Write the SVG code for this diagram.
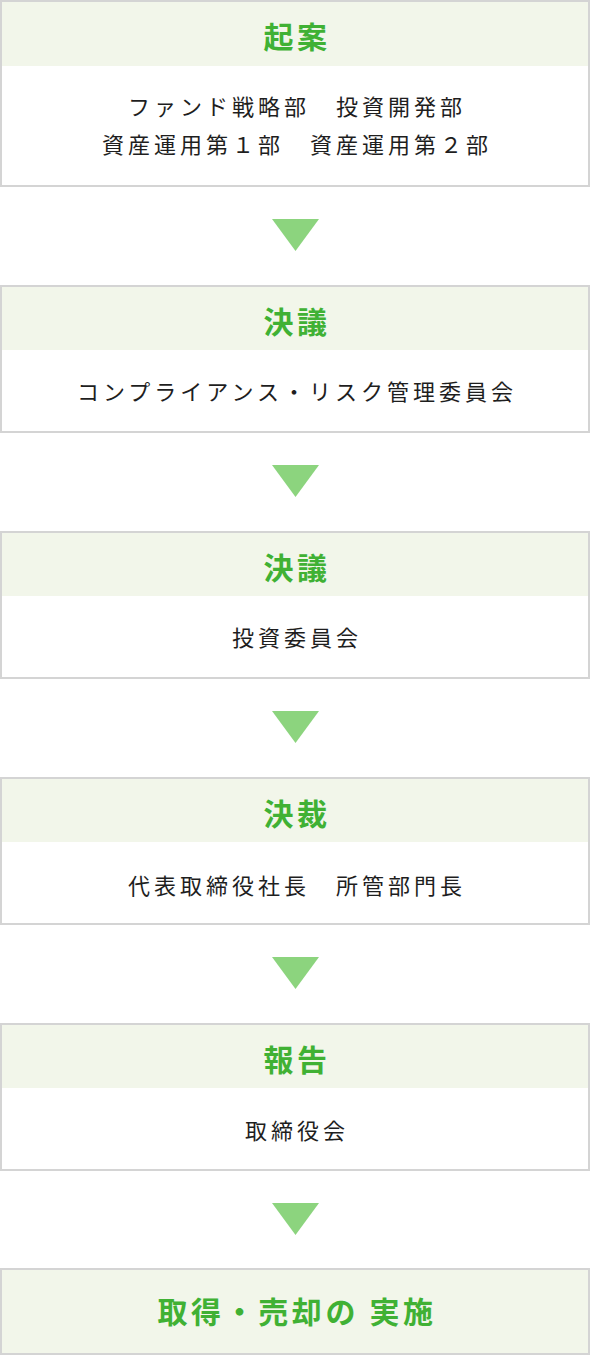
<svg xmlns="http://www.w3.org/2000/svg" width="590" height="1356" viewBox="0 0 590 1356">
<style>
.box{fill:#ffffff;stroke:#d4d4d4;stroke-width:2}
.hd{fill:#f2f6ea}
.ttl{font-family:"Noto Sans CJK JP","Noto Sans",sans-serif;font-size:30px;font-weight:bold;fill:#40b134;text-anchor:middle;letter-spacing:3.6px}
.txt{font-family:"Noto Sans CJK JP","Noto Sans",sans-serif;font-size:22px;fill:#1e1e1e;text-anchor:middle;letter-spacing:4px}
.arr{fill:#8cd47e}
</style>
<rect width="590" height="1356" fill="#ffffff"/>
<g id="node1">
<rect class="box" x="1" y="1" width="588" height="185"/>
<rect class="hd" x="2" y="2" width="586" height="64"/>
<text class="ttl" x="297" y="48">起案</text>
<text class="txt" x="297" y="115">ファンド戦略部　投資開発部</text>
<text class="txt" x="297" y="153">資産運用第１部　資産運用第２部</text>
</g>
<g id="node2">
<rect class="box" x="1" y="286" width="588" height="146"/>
<rect class="hd" x="2" y="287" width="586" height="63"/>
<text class="ttl" x="297" y="333">決議</text>
<text class="txt" x="297" y="400">コンプライアンス・リスク管理委員会</text>
</g>
<g id="node3">
<rect class="box" x="1" y="532" width="588" height="146"/>
<rect class="hd" x="2" y="533" width="586" height="63"/>
<text class="ttl" x="297" y="579">決議</text>
<text class="txt" x="297" y="646">投資委員会</text>
</g>
<g id="node4">
<rect class="box" x="1" y="778" width="588" height="146"/>
<rect class="hd" x="2" y="779" width="586" height="63"/>
<text class="ttl" x="297" y="825">決裁</text>
<text class="txt" x="297" y="894">代表取締役社長　所管部門長</text>
</g>
<g id="node5">
<rect class="box" x="1" y="1024" width="588" height="146"/>
<rect class="hd" x="2" y="1025" width="586" height="63"/>
<text class="ttl" x="297" y="1071">報告</text>
<text class="txt" x="297" y="1139">取締役会</text>
</g>
<g id="node6">
<rect class="box" x="1" y="1269" width="588" height="85"/>
<rect class="hd" x="2" y="1270" width="586" height="83"/>
<text class="ttl" x="297" y="1323">取得・売却の 実施</text>
</g>
<g id="connectors">
<polygon class="arr" points="272,219 319,219 295.5,251"/>
<polygon class="arr" points="272,465 319,465 295.5,497"/>
<polygon class="arr" points="272,711 319,711 295.5,743"/>
<polygon class="arr" points="272,957 319,957 295.5,989"/>
<polygon class="arr" points="272,1203 319,1203 295.5,1235"/>
</g>
</svg>
